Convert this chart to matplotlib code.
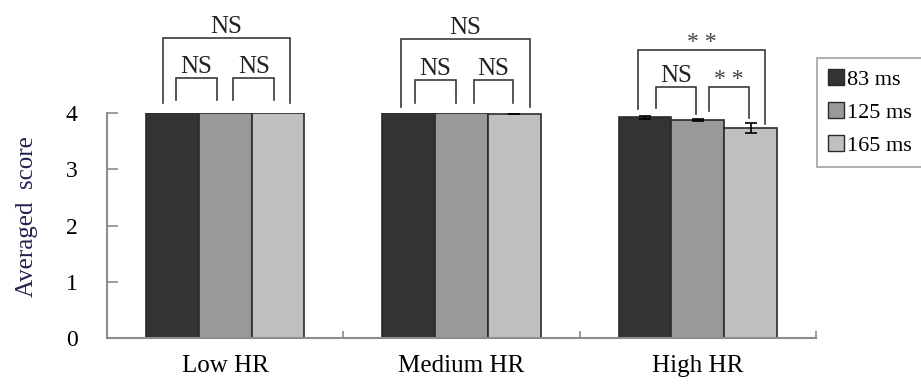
import matplotlib
matplotlib.use("Agg")
import matplotlib.pyplot as plt
import numpy as np
from matplotlib.patches import Patch

plt.rcParams['font.family'] = ['Liberation Serif', 'DejaVu Serif']

categories = ["Low HR", "Medium HR", "High HR"]
series = ["83 ms", "125 ms", "165 ms"]
values = {
    "83 ms":  [4.00, 4.00, 3.925],
    "125 ms": [4.00, 4.00, 3.87],
    "165 ms": [4.00, 3.99, 3.735],
}
errors = {
    "83 ms":  [0.0, 0.0, 0.025],
    "125 ms": [0.0, 0.0, 0.02],
    "165 ms": [0.0, 0.01, 0.09],
}
yticks = [0, 1, 2, 3, 4]

# significance annotations: (group, x_left_off, x_right_off, top, left_leg_bottom, right_leg_bottom, label)
brackets = [
    (0, -0.263, 0.275, 5.33, 4.17, 4.17, "NS"),
    (0, -0.208, -0.034, 4.62, 4.23, 4.23, "NS"),
    (0, 0.034, 0.208, 4.62, 4.23, 4.23, "NS"),
    (1, -0.254, 0.288, 5.32, 4.11, 4.11, "NS"),
    (1, -0.195, -0.025, 4.59, 4.18, 4.18, "NS"),
    (1, 0.051, 0.220, 4.59, 4.18, 4.18, "NS"),
    (2, -0.254, 0.284, 5.12, 4.07, 3.80, "**"),
    (2, -0.178, -0.008, 4.46, 4.085, 3.98, "NS"),
    (2, 0.047, 0.216, 4.46, 4.03, 3.91, "**"),
]

colors = ["#333333", "#999999", "#c0c0c0"]
edge = "#2a2a2a"
spine_col = "#8c8c8c"

fig = plt.figure(figsize=(9.21, 3.91), dpi=100)
ax = fig.add_axes([107/921, (391-338)/391, 709/921, 225/391])

x = np.arange(len(categories))
w = 0.223
for i, s in enumerate(series):
    xs = x + (i - 1) * w
    ax.bar(xs, values[s], width=w, color=colors[i], edgecolor=edge, linewidth=1.2, zorder=2)
    for xi, v, e in zip(xs, values[s], errors[s]):
        if e > 0:
            ax.errorbar([xi], [v], yerr=[e], fmt='none', ecolor='black',
                        elinewidth=1.2, capsize=4, capthick=1.2, zorder=3)

for g, xl, xr, top, lb, rb, lab in brackets:
    ax.plot([g + xl, g + xl, g + xr, g + xr], [lb, top, top, rb],
            color="#3a3a3a", lw=1.2, clip_on=False, solid_joinstyle='miter')
    if lab == "**":
        ax.text(g + (xl + xr) / 2, top + 0.04, "* *", ha='center', va='baseline',
                fontsize=17, color="#444444", clip_on=False)
    else:
        ax.text(g + (xl + xr) / 2, top + 0.09, lab, ha='center', va='baseline',
                fontsize=18, color="#222222", clip_on=False)

ax.set_xlim(-0.5, 2.5)
ax.set_ylim(0, 4)
for sp in ["top", "right"]:
    ax.spines[sp].set_visible(False)
for sp in ["left", "bottom"]:
    ax.spines[sp].set_color(spine_col)
    ax.spines[sp].set_linewidth(1.5)

ax.set_yticks(yticks)
ax.set_yticklabels([str(t) for t in yticks], fontsize=17)
ax.tick_params(axis='y', direction='in', length=8, width=1.2, color=spine_col, pad=21)

ax.set_xticks([0.5, 1.5, 2.5])
ax.set_xticklabels([])
ax.set_xticks(x, minor=True)
ax.set_xticklabels(categories, minor=True, fontsize=18)
ax.tick_params(axis='x', which='major', direction='in', length=5, width=1.2, color=spine_col)
ax.tick_params(axis='x', which='minor', length=0, pad=12)

ax.set_ylabel("Averaged  score", fontsize=18, color="#23234f")
ax.yaxis.set_label_coords(-0.098, 0.54)

handles = [Patch(facecolor=c, edgecolor=edge, linewidth=1.0) for c in colors]
leg = fig.legend(handles, series, loc='upper left', bbox_to_anchor=(817/921, 1 - 58/391),
                 fontsize=16, frameon=True, fancybox=False, handlelength=0.72,
                 handleheight=0.72, handletextpad=0.15, labelspacing=0.56, borderpad=0.5,
                 borderaxespad=0)
leg.get_frame().set_edgecolor("#8c8c8c")
leg.get_frame().set_linewidth(1.2)

fig.savefig("out.png", dpi=100)
